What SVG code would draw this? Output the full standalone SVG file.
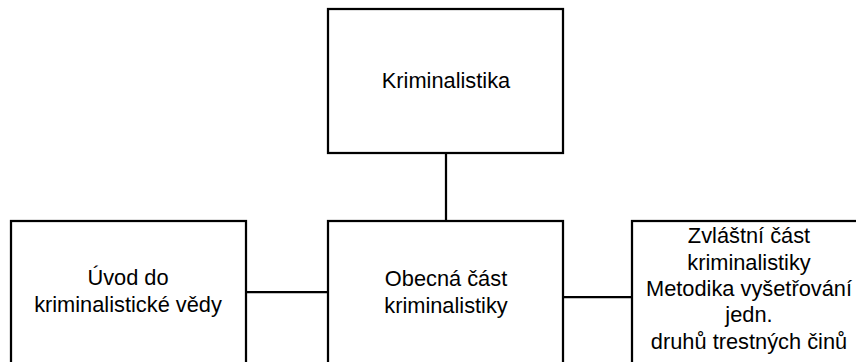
<svg xmlns="http://www.w3.org/2000/svg" width="856" height="362" viewBox="0 0 856 362">
<style>
.box{fill:#fff;stroke:#000;stroke-width:2.25}
.ln{stroke:#000;stroke-width:2.25;fill:none}
text{font-family:"Liberation Sans",Arial,sans-serif;font-size:21.8px;fill:#000;text-anchor:middle}
</style>
<rect width="856" height="362" fill="#fff"/>
<g id="connectors">
<line class="ln" x1="446" y1="153" x2="446" y2="221"/>
<line class="ln" x1="246" y1="292" x2="328" y2="292"/>
<line class="ln" x1="563" y1="297" x2="632" y2="297"/>
</g>
<g id="kriminalistika">
<rect class="box" x="328" y="9" width="235" height="144"/>
<text x="446" y="88">Kriminalistika</text>
</g>
<g id="uvod">
<rect class="box" x="11" y="221" width="235" height="160"/>
<text x="128" y="285">Úvod do</text>
<text x="128" y="312">kriminalistické vědy</text>
</g>
<g id="obecna">
<rect class="box" x="328" y="221" width="235" height="160"/>
<text x="446" y="286">Obecná část</text>
<text x="446" y="313">kriminalistiky</text>
</g>
<g id="zvlastni">
<rect class="box" x="632" y="221" width="235" height="160"/>
<text x="749" y="243">Zvláštní část</text>
<text x="749" y="269.5">kriminalistiky</text>
<text x="749" y="296">Metodika vyšetřování</text>
<text x="749" y="322">jedn.</text>
<text x="749" y="348.5">druhů trestných činů</text>
</g>
</svg>
